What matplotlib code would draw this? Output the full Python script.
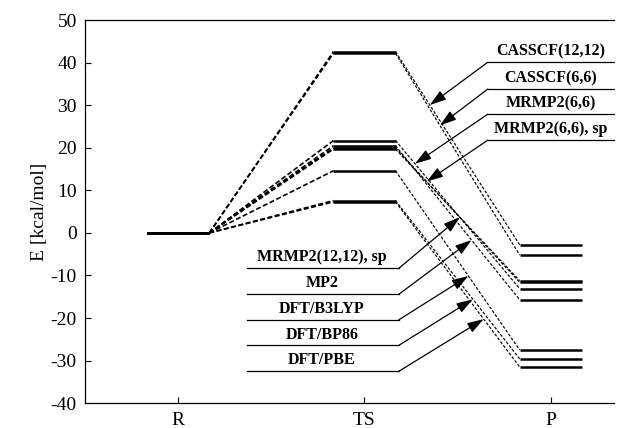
import numpy as np
import matplotlib
matplotlib.use('Agg')
import matplotlib.pyplot as plt

plt.rcParams['font.family'] = ['Liberation Serif', 'DejaVu Serif']
plt.rcParams['axes.unicode_minus'] = False

# energies in kcal/mol, R -> TS -> P
stages = ['R', 'TS', 'P']
methods = ['CASSCF(12,12)', 'CASSCF(6,6)', 'MRMP2(6,6)', 'MRMP2(6,6), sp',
           'MRMP2(12,12), sp', 'MP2', 'DFT/B3LYP', 'DFT/BP86', 'DFT/PBE']
e_r = [0.0] * 9
e_ts = [42.6, 42.2, 21.7, 20.0, 19.7, 20.5, 14.6, 7.6, 7.3]
e_p = [-2.8, -5.2, -13.1, -11.6, -11.2, -15.7, -27.5, -29.6, -31.5]

# where each label arrow hits its TS->P line (x in stage units)
tip_x = [2.351, 2.405, 2.271, 2.334, 2.512, 2.575, 2.558, 2.582, 2.640]
# label rows: right side for the first four, left side for the rest
label_y = [40.1, 33.8, 27.9, 21.8, -8.3, -14.4, -20.4, -26.4, -32.5]

hw = 1 / 6.0  # half width of a level bar

fig = plt.figure(figsize=(6.35, 4.28), dpi=100)
ax = fig.add_axes([0.134, 0.058, 0.833, 0.895])

xs = np.arange(1, 4)
for i in range(len(methods)):
    lev = [e_r[i], e_ts[i], e_p[i]]
    for x, e in zip(xs, lev):
        ax.plot([x - hw, x + hw], [e, e], color='black', lw=1.8, solid_capstyle='butt')
    ax.plot([1 + hw, 2 - hw], [lev[0], lev[1]], color='black', lw=1.2,
            ls=(0, (3, 1.5)))
    ax.plot([2 + hw, 3 - hw], [lev[1], lev[2]], color='black', lw=0.85,
            ls=(0, (2.5, 1.5)))

    # arrow tip on the TS->P connector
    t = (tip_x[i] - (2 + hw)) / (1 - 2 * hw)
    tip_y = e_ts[i] + t * (e_p[i] - e_ts[i])
    if i < 4:
        x0, x1 = 2.662, 3.34
        xt = 3.0
        xa = x0
    else:
        x0, x1 = 1.370, 2.185
        xt = 1.772
        xa = x1
    ax.plot([x0, x1], [label_y[i], label_y[i]], color='black', lw=0.9,
            clip_on=False)
    ax.annotate('', xy=(tip_x[i], tip_y), xytext=(xa, label_y[i]),
                arrowprops=dict(arrowstyle='-|>,head_length=1.0,head_width=0.32',
                                color='black', lw=0.9, shrinkA=0, shrinkB=0))
    ax.annotate(methods[i], xy=(xt, label_y[i]), xytext=(0, 2),
                textcoords='offset points', ha='center', va='bottom',
                fontsize=11.5, fontweight='bold')

ax.set_xlim(0.5, 3.34)
ax.set_ylim(-40, 50)
ax.set_xticks(xs)
ax.set_xticklabels(stages)
ax.set_yticks(np.arange(-40, 51, 10))
ax.tick_params(direction='in', length=4, labelsize=14, width=0.8)
ax.tick_params(axis='y', pad=6)
ax.tick_params(axis='x', pad=6)
ax.set_ylabel('E [kcal/mol]', fontsize=14, labelpad=2)
ax.spines['right'].set_visible(False)
for s in ['left', 'bottom', 'top']:
    ax.spines[s].set_linewidth(0.9)

fig.savefig('out.png', dpi=100)
